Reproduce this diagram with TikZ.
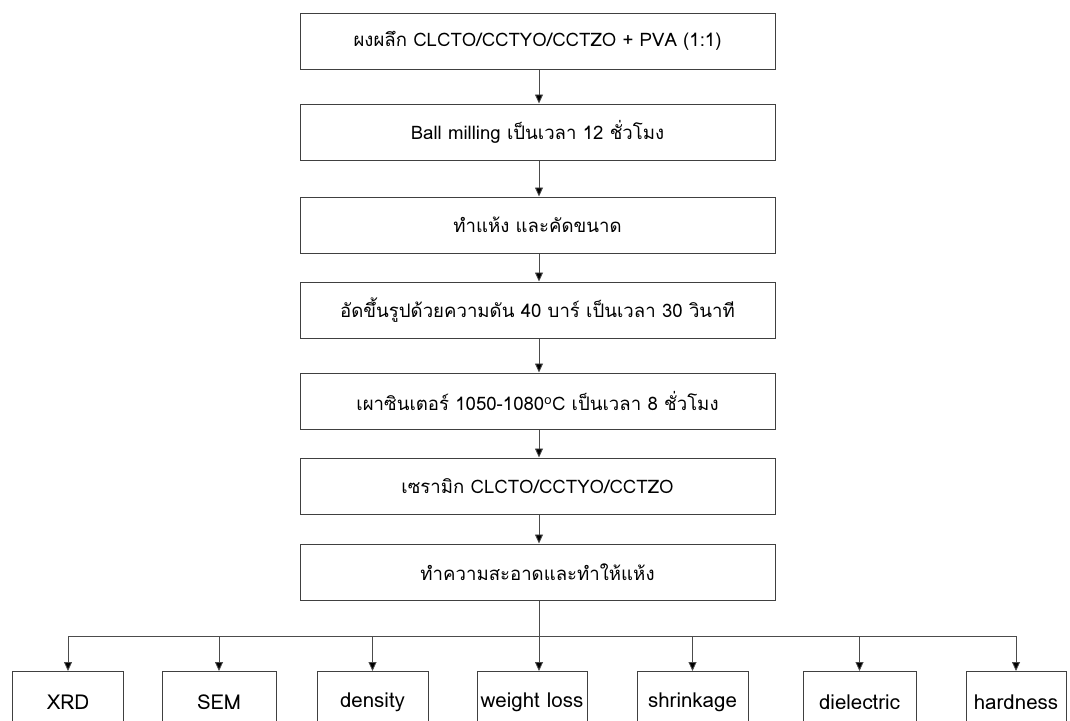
\documentclass[tikz,border=0pt]{standalone}
\usepackage{fontspec}
\newfontfamily\thai[Script=Thai]{Loma}
\usetikzlibrary{arrows.meta}
\begin{document}
\begin{tikzpicture}[x=1pt,y=-1pt,
  box/.style={draw=black!75, line width=1pt, minimum width=475pt, minimum height=56pt, inner sep=0pt, font=\thai\fontsize{18.6}{21}\selectfont},
  sbox/.style={draw=black!75, line width=1pt, minimum height=62pt, inner sep=0pt, anchor=north, font=\thai\fontsize{20.5}{23}\selectfont},
  conn/.style={draw=black!70, line width=0.8pt},
  arr/.style={conn, -{Triangle[length=9pt,width=8pt,fill=black]}}]
\useasboundingbox (0,0) rectangle (1070,720);
\clip (0,0) rectangle (1070,720);
\fill[white] (0,0) rectangle (1070,720);

\node[box] (b1) at (537.5,41) {ผงผลึก CLCTO/CCTYO/CCTZO + PVA (1:1)};
\node[box] (b2) at (537.5,132) {Ball milling เป็นเวลา 12 ชั่วโมง};
\node[box] (b3) at (537.5,225) {ทำแห้ง และคัดขนาด};
\node[box] (b4) at (537.5,310) {อัดขึ้นรูปด้วยความดัน 40 บาร์ เป็นเวลา 30 วินาที};
\node[box] (b5) at (537.5,401) {เผาซินเตอร์ 1050-1080\textsuperscript{o}C เป็นเวลา 8 ชั่วโมง};
\node[box] (b6) at (537.5,486) {เซรามิก CLCTO/CCTYO/CCTZO};
\node[box] (b7) at (537.5,572) {ทำความสะอาดและทำให้แห้ง};

\foreach \a/\b in {b1/b2,b2/b3,b3/b4,b4/b5,b5/b6,b6/b7}
  \draw[arr] ([xshift=1.5pt]\a.south) -- ([xshift=1.5pt]\b.north);

\node[sbox, minimum width=111pt] (xrd) at (68,671) {XRD};
\node[sbox, minimum width=114pt] (sem) at (219,671) {SEM};
\node[sbox, minimum width=111pt] (den) at (372.5,671) {density};
\node[sbox, minimum width=110pt] (wl) at (532,671) {weight loss};
\node[sbox, minimum width=111pt] (shr) at (692.5,671) {shrinkage};
\node[sbox, minimum width=113pt] (die) at (859.5,671) {dielectric};
\node[sbox, minimum width=100pt] (har) at (1016,671) {hardness};

\coordinate (bus) at (539,636);
\draw[conn] ([xshift=1.5pt]b7.south) -- (bus);
\draw[conn] (xrd.north |- bus) -- (har.north |- bus);
\foreach \n in {xrd,sem,den,shr,die,har}
  \draw[arr] (\n.north |- bus) -- (\n.north);
\draw[arr] (bus) -- ([xshift=7pt]wl.north);
\end{tikzpicture}
\end{document}
